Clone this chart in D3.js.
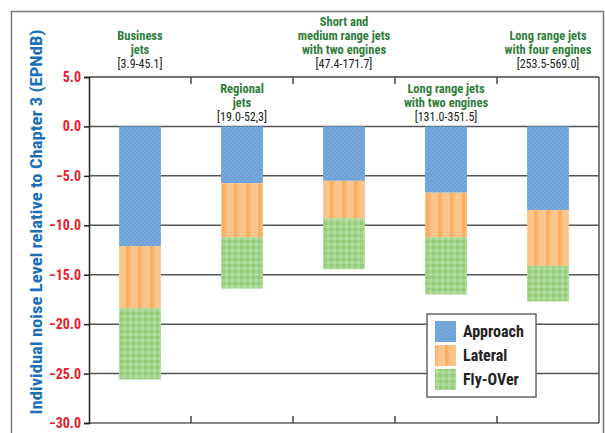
<!DOCTYPE html>
<html><head><meta charset="utf-8">
<script src="https://cdn.jsdelivr.net/npm/d3@7"></script>
<style>
html,body{margin:0;padding:0;background:#fff;}
svg{display:block;}
text{font-family:'Liberation Sans Narrow','Arial Narrow','Roboto Condensed','Liberation Sans',sans-serif;}
</style></head>
<body><svg id="c" width="605" height="433"></svg>
<script>
// ---- data ----
const categories = ["Business jets","Regional jets","Short and medium range jets with two engines","Long range jets with two engines","Long range jets with four engines"];
const labelLines = [["Business","jets"],["Regional","jets"],["Short and","medium range jets","with two engines"],["Long range jets","with two engines"],["Long range jets","with four engines"]];
const ranges = ["[3.9-45.1]","[19.0-52,3]","[47.4-171.7]","[131.0-351.5]","[253.5-569.0]"];
const series = ["Approach","Lateral","Fly-OVer"];
const approach = [-12.1,-5.75,-5.5,-6.7,-8.45];
const lateral  = [-6.3,-5.45,-3.8,-4.5,-5.65];
const flyover  = [-7.2,-5.2,-5.15,-5.8,-3.6];
const yTicks = [5,0,-5,-10,-15,-20,-25,-30];
const yTitle = "Individual noise Level relative to Chapter 3 (EPNdB)";

const svg = d3.select("#c");
const L=89, R=599, T=77, B=423;
const x = d3.scaleBand().domain(categories).range([L,R]).padding(0);
const y = d3.scaleLinear().domain([-30,5]).range([B,T]);

// patterns
const defs = svg.append("defs");
const pb = defs.append("pattern").attr("id","pBlue").attr("patternUnits","userSpaceOnUse").attr("width",4).attr("height",4);
pb.append("rect").attr("width",4).attr("height",4).attr("fill","#6a9fd6");
pb.append("path").attr("d","M-1,1 L1,-1 M0,4 L4,0 M3,5 L5,3").attr("stroke","#7fafe1").attr("stroke-width",1.2);
const po = defs.append("pattern").attr("id","pOrange").attr("patternUnits","userSpaceOnUse").attr("width",12).attr("height",4);
po.append("rect").attr("width",12).attr("height",4).attr("fill","#fcc58b");
po.append("rect").attr("x",6).attr("width",3).attr("height",4).attr("fill","#faae62");
po.append("rect").attr("x",9).attr("width",2).attr("height",4).attr("fill","#fbba76");
const pg = defs.append("pattern").attr("id","pGreen").attr("patternUnits","userSpaceOnUse").attr("width",6).attr("height",6);
pg.append("rect").attr("width",6).attr("height",6).attr("fill","#a3d58c");
pg.append("rect").attr("x",0).attr("y",0).attr("width",3).attr("height",3).attr("fill","#92cd7a");
pg.append("rect").attr("x",3).attr("y",3).attr("width",3).attr("height",3).attr("fill","#b2dd9f");
const fills = {"Approach":"url(#pBlue)","Lateral":"url(#pOrange)","Fly-OVer":"url(#pGreen)"};

// outer frame
svg.append("rect").attr("x",11.5).attr("y",11.5).attr("width",592).attr("height",425).attr("fill","none").attr("stroke","#777").attr("stroke-width",1.5);

// gridlines
svg.append("g").selectAll("line").data(yTicks.filter(t=>t<5 && t>-30)).join("line")
  .attr("x1",L).attr("x2",R).attr("y1",d=>y(d)).attr("y2",d=>y(d))
  .attr("stroke","#555").attr("stroke-width",1.5);

// bars
const rows = categories.map((c,i)=>({cat:c,"Approach":approach[i],"Lateral":lateral[i],"Fly-OVer":flyover[i]}));
const stack = d3.stack().keys(series).offset(d3.stackOffsetDiverging)(rows);
const bw = x.bandwidth()*0.41;
svg.append("g").selectAll("g").data(stack).join("g").attr("fill",d=>fills[d.key])
  .selectAll("rect").data(d=>d).join("rect")
  .attr("x",d=>x(d.data.cat)+x.bandwidth()/2-bw/2).attr("width",bw)
  .attr("y",d=>y(Math.max(d[0],d[1]))).attr("height",d=>Math.abs(y(d[0])-y(d[1])));

// top & bottom frame lines with inward ticks
svg.append("line").attr("x1",L).attr("x2",R).attr("y1",T).attr("y2",T).attr("stroke","#444").attr("stroke-width",1.5);
svg.append("line").attr("x1",L).attr("x2",R).attr("y1",B).attr("y2",B).attr("stroke","#888").attr("stroke-width",2);
svg.append("line").attr("x1",R).attr("x2",R).attr("y1",T).attr("y2",B).attr("stroke","#555").attr("stroke-width",1.5);
const bounds = categories.slice(1).map(c=>x(c));
svg.append("g").selectAll("line").data(bounds).join("line")
  .attr("x1",d=>d).attr("x2",d=>d).attr("y1",T).attr("y2",T+7).attr("stroke","#444").attr("stroke-width",1.5);
svg.append("g").selectAll("line").data(bounds).join("line")
  .attr("x1",d=>d).attr("x2",d=>d).attr("y1",B).attr("y2",B-7).attr("stroke","#444").attr("stroke-width",1.5);

// y axis
const ya = svg.append("g").attr("transform",`translate(${L},0)`)
  .call(d3.axisLeft(y).tickValues(yTicks).tickFormat(d3.format(".1f")).tickSize(5).tickPadding(3));
ya.select(".domain").attr("stroke","#222").attr("stroke-width",1.5);
ya.selectAll(".tick line").attr("stroke","#222").attr("stroke-width",1.5);
ya.selectAll(".tick text").attr("fill","#e8202a").attr("font-weight","bold").attr("font-size",14)
  .style("font-family","'Liberation Sans Narrow','Arial Narrow','Roboto Condensed','Liberation Sans',sans-serif");

// y title
svg.append("text").attr("transform","translate(42,222) rotate(-90)").attr("text-anchor","middle")
  .attr("fill","#1a6fb8").attr("font-weight","bold").attr("font-size",16.5)
  .attr("textLength",385).attr("lengthAdjust","spacingAndGlyphs").text(yTitle);

// category labels
const lowRow = [false,true,false,true,false];
categories.forEach((c,i)=>{
  const cx = x(c)+x.bandwidth()/2;
  const lastBase = lowRow[i]?121:68;
  const lines = labelLines[i];
  const g = svg.append("g").attr("text-anchor","middle");
  lines.forEach((ln,j)=>{
    g.append("text").attr("x",cx).attr("y",lastBase-14*(lines.length-j)).attr("fill","#2f7d3c")
      .attr("font-weight","bold").attr("font-size",12.5).text(ln);
  });
  g.append("text").attr("x",cx).attr("y",lastBase).attr("fill","#222").attr("font-size",12).text(ranges[i]);
});

// legend
const lg = svg.append("g").attr("transform","translate(427,314)");
lg.append("rect").attr("width",109).attr("height",83).attr("fill","#fff").attr("stroke","#666").attr("stroke-width",1.5);
series.forEach((s,i)=>{
  lg.append("rect").attr("x",8).attr("y",7+i*24).attr("width",21).attr("height",21).attr("fill",fills[s]);
  lg.append("text").attr("x",36).attr("y",23+i*24).attr("fill","#222").attr("font-weight","bold").attr("font-size",16).text(s);
});
</script></body></html>
